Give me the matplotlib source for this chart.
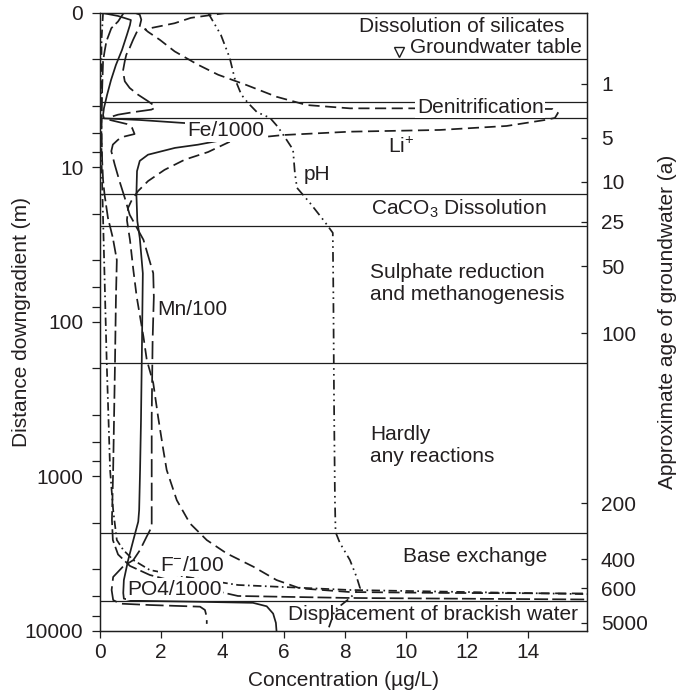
import matplotlib
matplotlib.use('Agg')
import matplotlib.pyplot as plt
from matplotlib.ticker import FixedLocator, NullLocator, FixedFormatter

plt.rcParams['font.family'] = ['Liberation Sans', 'DejaVu Sans']
plt.rcParams['mathtext.fontset'] = 'custom'
plt.rcParams['mathtext.rm'] = 'Liberation Sans'
plt.rcParams['mathtext.it'] = 'Liberation Sans:italic'
plt.rcParams['mathtext.bf'] = 'Liberation Sans:bold'
plt.rcParams['lines.scale_dashes'] = False

# ---------------- data ----------------
# Fe/1000 (solid)
fe_x = [0.03, 0.59, 1.01, 0.98, 0.88, 0.72, 0.52, 0.36, 0.23, 0.13, 0.10, 0.13, 1.31, 2.78, 4.9, 4.74,
        3.2, 2.45, 1.57, 1.30, 1.21, 1.19, 1.22, 1.30, 1.40, 1.37, 1.34, 1.31, 1.28, 1.25, 1.09, 0.92,
        0.78, 0.76, 0.78, 1.09, 3.27, 5.0, 5.45, 5.66, 5.75, 5.77]
fe_d = [1.0, 1.05, 1.115, 1.20, 1.39, 1.74, 2.18, 2.73, 3.41, 4.14, 4.6, 4.83, 4.95, 5.18, 5.74, 6.27,
        7.15, 7.5, 8.3, 9.1, 10.6, 15.0, 22.3, 28.7, 48.6, 152, 433, 912, 1655, 1970, 2590, 3490,
        4700, 5700, 6200, 6400, 6500, 6600, 6950, 7750, 8900, 10000]

# pH (dash-dot-dot)
ph_x = [3.53, 3.95, 4.24, 4.40, 4.62, 4.84, 5.13, 5.56, 5.82, 6.11, 6.31, 6.37, 6.44, 6.86, 7.35, 7.61,
        7.63, 7.65, 7.68, 7.70, 7.84, 8.17, 8.39, 8.50, 8.17, 7.68, 7.46]
ph_d = [1.0, 1.39, 1.96, 2.65, 3.39, 3.84, 4.4, 4.8, 5.5, 6.7, 7.7, 10.9, 13.6, 17.0, 22.6, 26.6,
        72, 320, 1430, 2300, 2700, 3490, 4500, 5290, 6150, 7350, 9800]

# Li+ (medium dash)
li_x = [4.18, 2.97, 2.44, 1.99, 1.47, 1.57, 1.96, 2.44, 3.2, 3.86, 4.79, 5.77, 6.76, 8.17, 11.44, 14.8,
        14.97, 14.87, 14.54, 13.29, 11.11, 8.17, 5.99, 4.36, 3.53, 2.77, 2.11, 1.57, 1.24, 1.02, 0.92,
        0.88, 0.98, 1.09, 1.20, 1.42, 1.53, 1.74, 1.90, 2.07, 2.18, 2.51, 2.94, 3.49, 4.14, 5.01, 5.77,
        6.54, 8.17, 11.44, 15.92]
li_d = [1.0, 1.08, 1.17, 1.22, 1.28, 1.33, 1.50, 1.78, 2.17, 2.52, 2.94, 3.50, 3.96, 4.16, 4.16, 4.2,
        4.46, 4.8, 4.95, 5.41, 5.74, 5.89, 6.19, 6.67, 7.98, 8.94, 10.4, 12.3, 14.3, 16.6, 18.3,
        22.0, 29.6, 46.3, 69, 125, 177, 249, 414, 677, 912, 1430, 2020, 2590, 3160, 3850, 4700,
        5320, 5620, 5700, 5740]

# Mn/100 (long dash)
mn_x = [1.13, 1.30, 1.35, 1.30, 1.19, 1.08, 0.97, 0.86, 0.81, 0.75, 0.81, 0.97, 1.24, 1.57, 1.73, 1.79,
        1.68, 1.13, 0.59, 0.32, 0.33, 0.87, 1.05, 1.13, 0.81, 0.59, 0.42, 0.37, 0.48, 0.64, 0.81, 0.97,
        1.42, 1.74, 1.76, 1.72, 1.69, 1.69, 1.69, 1.53, 1.31, 1.09, 0.76, 0.43, 0.38, 0.43, 0.65, 1.63,
        3.27, 3.43, 3.49, 3.49]
mn_d = [1.0, 1.03, 1.11, 1.22, 1.35, 1.50, 1.69, 1.87, 2.06, 2.39, 2.78, 3.07, 3.39, 3.74, 3.94, 4.14,
        4.24, 4.39, 4.57, 4.75, 4.95, 5.25, 5.57, 6.10, 6.32, 6.64, 7.14, 7.88, 9.6, 12.35, 15.8, 20.3,
        29.5, 48.5, 69, 131, 414, 912, 2130, 2450, 3000, 3490, 3830, 4490, 5450, 6330, 6680, 6820,
        6990, 7340, 8160, 9030]

# F-/100 (dash-dot)
fl_x = [0.10, 0.05, 0.04, 0.05, 0.11, 0.22, 0.33, 0.43, 0.55, 0.76, 1.09, 1.63, 2.83, 4.51, 8.17, 15.92]
fl_d = [1.0, 1.50, 3.67, 9.0, 25.5, 185, 912, 1655, 2590, 3000, 3490, 4050, 4490, 5060, 5450, 5800]

# PO4/1000 (dash)
po_x = [0.78, 0.59, 0.37, 0.21, 0.15, 0.10, 0.07, 0.05, 0.07, 0.10, 0.15, 0.26, 0.42, 0.55, 0.52, 0.49,
        0.43, 0.39, 0.42, 0.59, 0.98, 1.63, 2.61, 4.51, 8.17, 15.92]
po_d = [1.0, 1.14, 1.26, 1.53, 1.78, 2.06, 3.16, 5.74, 9.0, 12.1, 15.1, 21.3, 28.7, 39.9, 72, 185,
        912, 1920, 2590, 3210, 3810, 4360, 4900, 5960, 6140, 6280]

# zone boundaries (m)
boundary_depths = [2, 3.77, 4.83, 14.8, 24.0, 184, 2322, 6424]

# axes ticks
conc_ticks = [0, 2, 4, 6, 8, 10, 12, 14]
depth_ticks = [1, 10, 100, 1000, 10000]
depth_labels = ['0', '10', '100', '1000', '10000']
depth_minor = [2, 4, 6, 8, 20, 40, 60, 80, 200, 400, 600, 800, 2000, 4000, 6000, 8000]
age_pos = [2.89, 6.47, 12.4, 22.5, 43.6, 118.9, 1491, 3450, 5330, 8850]
age_labels = ['1', '5', '10', '25', '50', '100', '200', '400', '600', '5000']

# ---------------- figure ----------------
INK = '#1e1e1e'
TXT = '#231f20'
FS = 15

fig = plt.figure(figsize=(6.88, 6.97), dpi=100)
ax = fig.add_axes([0.14535, 0.09512, 0.70785, 0.88666])
ax.set_yscale('log')
ax.set_xlim(0, 15.92)
ax.set_ylim(10000, 1)

for d in boundary_depths:
    ax.axhline(d, color=INK, lw=0.9, zorder=1.5)

lw = 1.25
ax.plot(fe_x, fe_d, color=INK, lw=lw, ls='-')
ax.plot(ph_x, ph_d, color=INK, lw=lw, ls=(0, (7, 3, 1.2, 3, 1.2, 3)))
ax.plot(li_x, li_d, color=INK, lw=lw, ls=(0, (8, 4)))
ax.plot(mn_x, mn_d, color=INK, lw=lw, ls=(0, (13, 4)))
ax.plot(fl_x, fl_d, color=INK, lw=lw, ls=(0, (6, 2.5, 1.2, 2.5)))
ax.plot(po_x, po_d, color=INK, lw=lw, ls=(0, (10, 3)))

# groundwater table marker
ax.plot([9.78], [1.79], marker='v', ms=7, mfc='white', mec=INK, mew=1, zorder=4)

wb = dict(facecolor='white', edgecolor='none', pad=1.0)
ax.text(11.83, 1.22, 'Dissolution of silicates', ha='center', va='center', fontsize=FS, color=TXT)
ax.text(15.75, 1.685, 'Groundwater table', ha='right', va='center', fontsize=FS, color=TXT)
ax.text(12.43, 4.08, 'Denitrification', ha='center', va='center', fontsize=FS, color=TXT, bbox=wb)
ax.text(4.10, 5.80, 'Fe/1000', ha='center', va='center', fontsize=FS, color=TXT, bbox=wb)
ax.text(9.84, 7.37, 'Li$^{+}$', ha='center', va='center', fontsize=FS, color=TXT)
ax.text(7.08, 11.2, 'pH', ha='center', va='center', fontsize=FS, color=TXT)
ax.text(11.72, 18.7, 'CaCO$_3$ Dissolution', ha='center', va='center', fontsize=FS, color=TXT)
ax.text(8.82, 57, 'Sulphate reduction\nand methanogenesis', ha='left', va='center', fontsize=FS,
        color=TXT, linespacing=1.2)
ax.text(1.86, 83, 'Mn/100', ha='left', va='center', fontsize=FS, color=TXT)
ax.text(8.82, 630, 'Hardly\nany reactions', ha='left', va='center', fontsize=FS, color=TXT,
        linespacing=1.2)
ax.text(12.27, 3320, 'Base exchange', ha='center', va='center', fontsize=FS, color=TXT)
ax.text(3.0, 3760, 'F$^{-}$/100', ha='center', va='center', fontsize=FS, color=TXT, bbox=wb)
ax.text(2.43, 5400, 'PO4/1000', ha='center', va='center', fontsize=FS, color=TXT, bbox=wb)
ax.text(10.87, 7900, 'Displacement of brackish water', ha='center', va='center', fontsize=FS,
        color=TXT)

# left axis
ax.yaxis.set_major_locator(FixedLocator(depth_ticks))
ax.yaxis.set_major_formatter(FixedFormatter(depth_labels))
ax.yaxis.set_minor_locator(FixedLocator(depth_minor))
ax.set_xticks(conc_ticks)
ax.tick_params(axis='y', which='both', direction='out', length=6, width=0.9, pad=6,
               labelsize=FS, colors=INK, labelcolor=TXT)
ax.tick_params(axis='x', which='both', direction='out', length=5, width=0.9, pad=4,
               labelsize=FS, colors=INK, labelcolor=TXT)
for s in ax.spines.values():
    s.set_linewidth(0.9)
    s.set_color(INK)

ax.set_xlabel('Concentration (µg/L)', fontsize=FS, color=TXT)
ax.xaxis.set_label_coords(0.5, -0.066)
ax.set_ylabel('Distance downgradient (m)', fontsize=FS, color=TXT)
ax.yaxis.set_label_coords(-0.142, 0.5)

# right axis (age)
ax2 = ax.twinx()
ax2.set_yscale('log')
ax2.set_ylim(10000, 1)
ax2.yaxis.set_major_locator(FixedLocator(age_pos))
ax2.yaxis.set_major_formatter(FixedFormatter(age_labels))
ax2.yaxis.set_minor_locator(NullLocator())
ax2.tick_params(axis='y', which='both', direction='in', length=4, width=0.9, pad=10,
                labelsize=FS, colors=INK, labelcolor=TXT)
for s in ax2.spines.values():
    s.set_linewidth(0.9)
    s.set_color(INK)
ax2.set_ylabel('Approximate age of groundwater (a)', fontsize=FS, color=TXT)
ax2.yaxis.set_label_coords(1.146, 0.5)

fig.savefig('out.png', dpi=100)
